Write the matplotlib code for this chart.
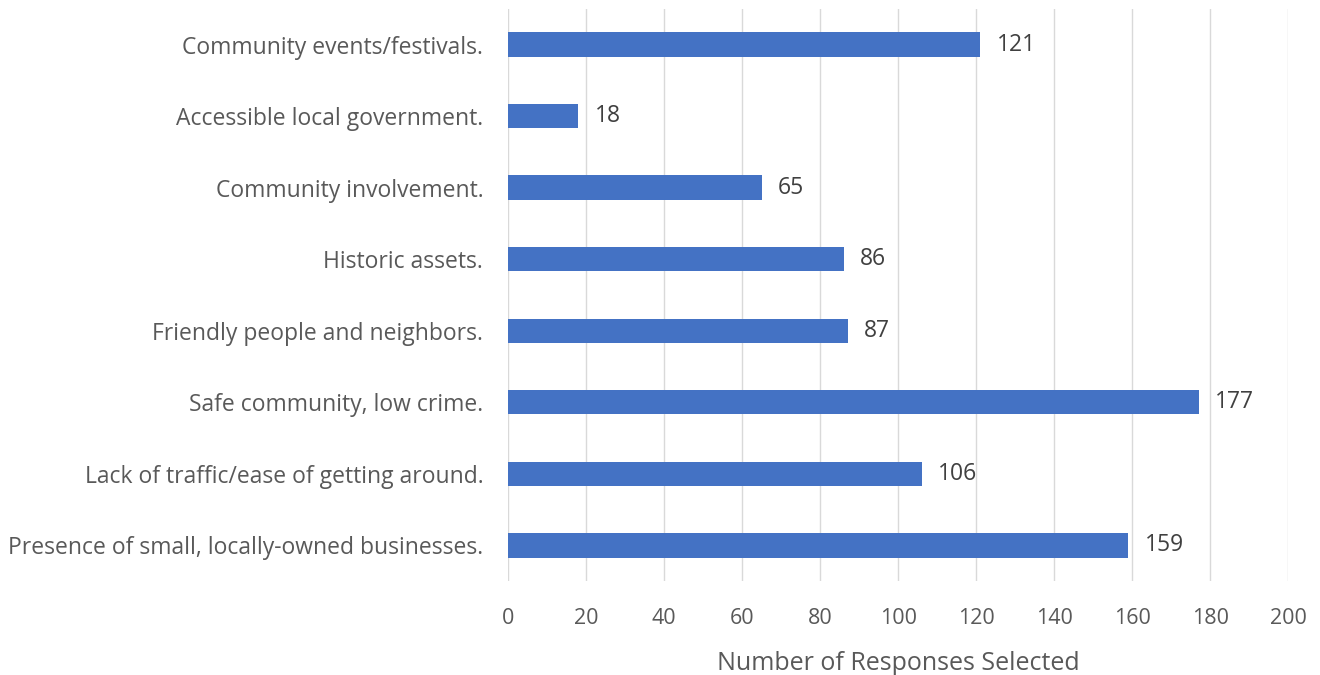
import matplotlib
matplotlib.use("Agg")
import matplotlib.pyplot as plt

categories = [
    "Community events/festivals.",
    "Accessible local government.",
    "Community involvement.",
    "Historic assets.",
    "Friendly people and neighbors.",
    "Safe community, low crime.",
    "Lack of traffic/ease of getting around.",
    "Presence of small, locally-owned businesses.",
]
values = [121, 18, 65, 86, 87, 177, 106, 159]
xticks = [0, 20, 40, 60, 80, 100, 120, 140, 160, 180, 200]
xlabel = "Number of Responses Selected"

plt.rcParams['font.family'] = ['Open Sans', 'DejaVu Sans']
text_color = "#595959"

fig = plt.figure(figsize=(13.2, 6.75), dpi=100)
ax = fig.add_axes([0.385, 0.139, 0.591, 0.848])

n = len(categories)
ypos = list(range(n))[::-1]
ax.barh(ypos, values, height=0.34, color="#4472C4", zorder=3)
for y, v in zip(ypos, values):
    ax.text(v + 4.2, y, str(v), va="center", ha="left", fontsize=16.5, color="#404040")

ax.set_xlim(0, 200)
ax.set_ylim(-0.5, n - 0.5)
ax.set_yticks(ypos)
ax.set_yticklabels(categories, fontsize=16.5, color=text_color)
ax.set_xticks(xticks)
ax.set_xticklabels([str(t) for t in xticks], fontsize=15.5, color=text_color)
ax.tick_params(axis="both", length=0)
ax.tick_params(axis="y", pad=18)
ax.tick_params(axis="x", pad=19)
ax.grid(axis="x", color="#D9D9D9", linewidth=1, zorder=0)
for s in ax.spines.values():
    s.set_visible(False)
ax.set_xlabel(xlabel, fontsize=18, color=text_color, labelpad=16)

fig.savefig("out.png", dpi=100)
